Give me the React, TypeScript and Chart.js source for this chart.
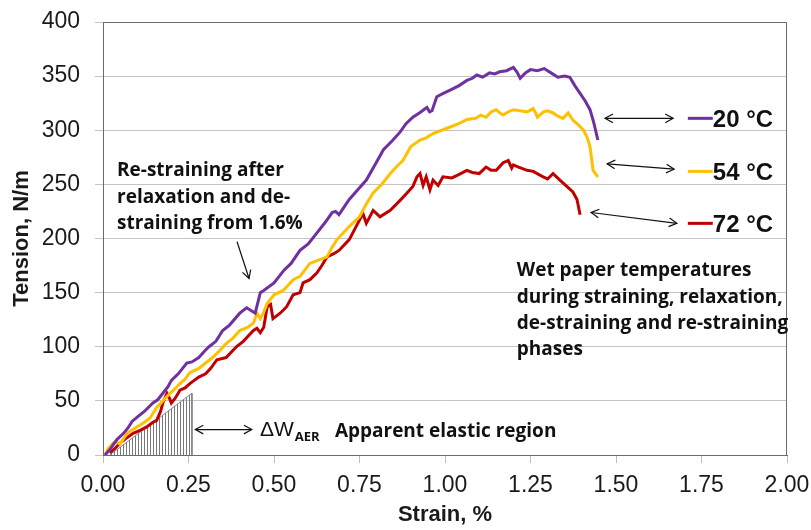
import { useEffect, useRef } from "react";
import { Chart, registerables } from "chart.js";

Chart.register(...registerables);

// ---------- data ----------
const strain20 = [0.006, 0.02, 0.04, 0.06, 0.073, 0.085, 0.1, 0.12, 0.146, 0.16, 0.175, 0.19, 0.2, 0.22, 0.245, 0.26, 0.28, 0.3, 0.31, 0.33, 0.35, 0.37, 0.4, 0.42, 0.435, 0.445, 0.46, 0.47, 0.5, 0.53, 0.55, 0.576, 0.6, 0.625, 0.65, 0.67, 0.68, 0.69, 0.72, 0.745, 0.77, 0.795, 0.82, 0.845, 0.868, 0.886, 0.906, 0.925, 0.947, 0.955, 0.962, 0.976, 0.995, 1.015, 1.04, 1.064, 1.08, 1.093, 1.11, 1.13, 1.145, 1.16, 1.18, 1.2, 1.21, 1.22, 1.235, 1.25, 1.27, 1.29, 1.31, 1.33, 1.35, 1.365, 1.38, 1.395, 1.41, 1.424, 1.435, 1.447];
const tension20 = [0, 5, 14, 20, 25, 31, 35, 40, 48, 51, 57, 63, 69, 75, 85, 86, 90, 97, 100, 105, 115, 120, 131, 136, 133, 131, 150, 152, 159, 171, 177, 189, 195, 205, 215, 224, 225, 222, 236, 245, 254, 268, 282, 290, 298, 306, 312, 316, 321, 317, 318, 331, 334, 337, 341, 346, 348, 351, 349, 353, 352, 354, 355, 358, 354, 348, 353, 356, 355, 357, 353, 349, 350, 349, 341, 334, 327, 319, 307, 291];

const strain54 = [0.006, 0.015, 0.03, 0.04, 0.05, 0.07, 0.085, 0.1, 0.12, 0.137, 0.157, 0.175, 0.196, 0.21, 0.225, 0.24, 0.254, 0.28, 0.3, 0.32, 0.34, 0.36, 0.38, 0.4, 0.424, 0.44, 0.45, 0.46, 0.47, 0.48, 0.5, 0.527, 0.556, 0.576, 0.605, 0.63, 0.655, 0.67, 0.684, 0.72, 0.75, 0.77, 0.79, 0.815, 0.84, 0.86, 0.877, 0.9, 0.927, 0.945, 0.965, 0.99, 1.015, 1.04, 1.064, 1.09, 1.105, 1.12, 1.135, 1.15, 1.16, 1.17, 1.185, 1.2, 1.22, 1.24, 1.258, 1.265, 1.27, 1.288, 1.3, 1.316, 1.33, 1.345, 1.36, 1.375, 1.39, 1.405, 1.415, 1.424, 1.433, 1.447];
const tension54 = [0, 6, 11, 12, 10, 20, 23, 26, 30, 34, 44, 50, 57, 61, 66, 70, 76, 80, 85, 90, 96, 103, 108, 115, 118, 122, 131, 126, 132, 140, 148, 152, 162, 165, 177, 180, 183, 192, 199, 211, 220, 232, 242, 250, 260, 267, 272, 285, 291, 293, 297, 300, 303, 306, 310, 311, 314, 312, 317, 319, 316, 314, 317, 319, 318, 317, 320, 316, 312, 317, 318, 316, 313, 311, 316, 309, 305, 300, 294, 285, 263, 257];

const strain72 = [0.02, 0.035, 0.05, 0.07, 0.088, 0.11, 0.128, 0.145, 0.157, 0.168, 0.175, 0.187, 0.195, 0.2, 0.21, 0.22, 0.225, 0.24, 0.254, 0.28, 0.3, 0.315, 0.333, 0.36, 0.39, 0.41, 0.44, 0.45, 0.46, 0.47, 0.48, 0.49, 0.497, 0.518, 0.537, 0.556, 0.576, 0.585, 0.605, 0.625, 0.64, 0.655, 0.675, 0.69, 0.72, 0.74, 0.76, 0.77, 0.79, 0.81, 0.84, 0.868, 0.889, 0.906, 0.918, 0.927, 0.936, 0.945, 0.956, 0.965, 0.98, 0.994, 1.02, 1.04, 1.064, 1.08, 1.1, 1.12, 1.135, 1.15, 1.17, 1.185, 1.195, 1.2, 1.215, 1.24, 1.258, 1.275, 1.287, 1.3, 1.316, 1.336, 1.357, 1.374, 1.386, 1.395];
const tension72 = [2, 6, 11, 16, 20, 23, 26, 30, 32, 40, 48, 57, 52, 48, 52, 57, 60, 62, 66, 72, 75, 80, 88, 90, 100, 105, 115, 117, 113, 118, 137, 139, 126, 131, 137, 148, 150, 159, 162, 168, 175, 183, 186, 189, 199, 211, 223, 214, 226, 220, 226, 235, 242, 248, 257, 260, 249, 257, 245, 254, 249, 257, 256, 259, 263, 261, 260, 266, 263, 263, 270, 272, 265, 268, 266, 263, 262, 259, 257, 255, 260, 254, 248, 243, 236, 222];

// apparent elastic region (hatched triangle)
const hatchStrain = [0.02, 0.26, 0.26];
const hatchTension = [0, 57, 0];

const seriesLabels = ["20 °C", "54 °C", "72 °C"];
const seriesColors = ["#7030A0", "#FFC000", "#C00000"];

const strainTicks = [0, 0.25, 0.5, 0.75, 1.0, 1.25, 1.5, 1.75, 2.0];
const tensionTicks = [0, 50, 100, 150, 200, 250, 300, 350, 400];

const noteRestrain = ["Re-straining after", "relaxation and de-", "straining from 1.6%"];
const noteWet = ["Wet paper temperatures", "during straining, relaxation,", "de-straining and re-straining", "phases"];
const noteElastic = "Apparent elastic region";

const NOTE_FONT = "bold 19px 'Open Sans'";

function toPoints(xs: number[], ys: number[]) {
  return xs.map((v, i) => ({ x: v, y: ys[i] }));
}

function arrowHead(ctx: CanvasRenderingContext2D, fx: number, fy: number, tx: number, ty: number) {
  const ang = Math.atan2(ty - fy, tx - fx);
  const len = 9;
  const spread = 0.5;
  ctx.beginPath();
  ctx.moveTo(tx - len * Math.cos(ang - spread), ty - len * Math.sin(ang - spread));
  ctx.lineTo(tx, ty);
  ctx.lineTo(tx - len * Math.cos(ang + spread), ty - len * Math.sin(ang + spread));
  ctx.stroke();
}

function arrow(ctx: CanvasRenderingContext2D, x1: number, y1: number, x2: number, y2: number, both: boolean) {
  ctx.beginPath();
  ctx.moveTo(x1, y1);
  ctx.lineTo(x2, y2);
  ctx.stroke();
  arrowHead(ctx, x1, y1, x2, y2);
  if (both) arrowHead(ctx, x2, y2, x1, y1);
}

const annotatePlugin = {
  id: "annotate",
  afterDraw(chart: any) {
    const { ctx, chartArea: a, scales } = chart;
    const X = (v: number) => scales.x.getPixelForValue(v);
    const Y = (v: number) => scales.y.getPixelForValue(v);
    ctx.save();

    // top & right frame
    ctx.strokeStyle = "#6a6a6a";
    ctx.lineWidth = 1;
    ctx.beginPath();
    ctx.moveTo(a.left, Math.round(a.top) + 0.5);
    ctx.lineTo(Math.round(a.right) - 0.5, Math.round(a.top) + 0.5);
    ctx.lineTo(Math.round(a.right) - 0.5, a.bottom);
    ctx.stroke();

    ctx.fillStyle = "#111";
    ctx.textBaseline = "middle";
    ctx.textAlign = "left";
    ctx.font = NOTE_FONT;
    // Re-straining note
    const rY = [263, 238, 214];
    noteRestrain.forEach((t, i) => ctx.fillText(t, X(0.041), Y(rY[i])));
    // Wet paper note
    const wY = [170, 145.5, 121.5, 97.5];
    noteWet.forEach((t, i) => ctx.fillText(t, X(1.21), Y(wY[i])));

    ctx.strokeStyle = "#111";
    ctx.lineWidth = 1.2;
    // arrow to re-straining point
    arrow(ctx, X(0.392), Y(197), X(0.427), Y(163), false);
    // elastic region double arrow
    arrow(ctx, X(0.27), Y(23.5), X(0.435), Y(23.5), true);
    // right side arrows
    arrow(ctx, X(1.468), Y(311), X(1.667), Y(311), true);
    arrow(ctx, X(1.474), Y(269), X(1.67), Y(264), true);
    arrow(ctx, X(1.427), Y(224), X(1.678), Y(214), true);

    // ΔW_AER
    ctx.font = "21px 'Liberation Sans', Arial";
    ctx.fillText("\u0394W", X(0.459), Y(22.5));
    const wW = ctx.measureText("\u0394W").width;
    ctx.font = "bold 13px 'Open Sans'";
    ctx.fillText("AER", X(0.459) + wW + 1, Y(16.5));
    ctx.font = NOTE_FONT;
    ctx.fillText(noteElastic, X(0.678), Y(22));

    // legend
    const legY = [311, 262, 214];
    chart.data.datasets.slice(0, 3).forEach((ds: any, i: number) => {
      const y = Y(legY[i]);
      ctx.strokeStyle = ds.borderColor;
      ctx.lineWidth = 3;
      ctx.beginPath();
      ctx.moveTo(X(1.71), y);
      ctx.lineTo(X(1.783), y);
      ctx.stroke();
      ctx.fillStyle = "#111";
      ctx.font = "bold 24px 'Liberation Sans', Arial";
      ctx.fillText(ds.label, X(1.783), y + 2);
    });
    ctx.restore();
  },
};

export default function App() {
  const ref = useRef<HTMLCanvasElement | null>(null);
  useEffect(() => {
    const canvas = ref.current;
    if (!canvas) return;
    document.body.style.margin = "0";

    const pc = document.createElement("canvas");
    pc.width = 3;
    pc.height = 4;
    const pctx = pc.getContext("2d")!;
    pctx.fillStyle = "#777777";
    pctx.fillRect(0, 0, 1, 4);
    const pattern = canvas.getContext("2d")!.createPattern(pc, "repeat");

    const series = [
      [strain20, tension20],
      [strain54, tension54],
      [strain72, tension72],
    ];

    const chart = new Chart(canvas, {
      type: "line",
      data: {
        datasets: [
          ...series.map((s, i) => ({
            label: seriesLabels[i],
            data: toPoints(s[0], s[1]),
            borderColor: seriesColors[i],
            backgroundColor: seriesColors[i],
            borderWidth: 3,
            pointRadius: 0,
            tension: 0,
            fill: false,
          })),
          {
            label: "hatch",
            data: toPoints(hatchStrain, hatchTension),
            borderColor: "#808080",
            borderWidth: 1,
            backgroundColor: pattern as any,
            pointRadius: 0,
            fill: "origin",
            tension: 0,
          },
        ],
      },
      options: {
        responsive: false,
        animation: false,
        events: [],
        layout: { padding: { top: 22, right: 24, left: 0, bottom: 0 } },
        plugins: { legend: { display: false }, tooltip: { enabled: false } },
        scales: {
          x: {
            type: "linear",
            min: 0,
            max: 2,
            afterBuildTicks: (s: any) => {
              s.ticks = strainTicks.map((v) => ({ value: v }));
            },
            afterFit: (s: any) => {
              s.height = 75;
              s.paddingLeft = 0;
              s.paddingRight = 0;
            },
            grid: { drawOnChartArea: false, drawTicks: true, tickLength: 8, color: "#bdbdbd" },
            border: { display: true, color: "#6a6a6a" },
            ticks: {
              autoSkip: false,
              maxRotation: 0,
              padding: 9,
              color: "#1a1a1a",
              font: { family: "'Liberation Sans', Arial", size: 23 },
              callback: (v: any) => Number(v).toFixed(2),
            },
            title: {
              display: true,
              text: "Strain, %",
              color: "#1a1a1a",
              font: { family: "'Liberation Sans', Arial", size: 22, weight: "bold" },
              padding: { top: 0, bottom: 2 },
            },
          },
          y: {
            type: "linear",
            min: 0,
            max: 400,
            afterBuildTicks: (s: any) => {
              s.ticks = tensionTicks.map((v) => ({ value: v }));
            },
            afterFit: (s: any) => {
              s.width = 103;
              s.paddingTop = 0;
              s.paddingBottom = 0;
            },
            grid: { drawOnChartArea: true, drawTicks: true, tickLength: 8, color: "#c4c4c4" },
            border: { display: true, color: "#6a6a6a" },
            ticks: {
              padding: 15,
              color: "#1a1a1a",
              font: { family: "'Liberation Sans', Arial", size: 23 },
            },
            title: {
              display: true,
              text: "Tension, N/m",
              color: "#1a1a1a",
              font: { family: "'Liberation Sans', Arial", size: 22, weight: "bold" },
              padding: { top: 9, bottom: 0 },
            },
          },
        },
      },
      plugins: [annotatePlugin],
    });
    return () => chart.destroy();
  }, []);

  return (
    <div style={{ position: "absolute", left: 0, top: 0, width: 811, height: 530, background: "#fff" }}>
      <canvas ref={ref} width={811} height={530} style={{ display: "block" }} />
    </div>
  );
}
